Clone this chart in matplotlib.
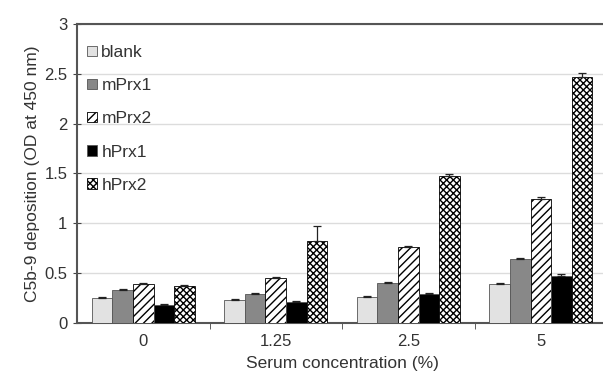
import numpy as np
import matplotlib
matplotlib.use("Agg")
import matplotlib.pyplot as plt

plt.rcParams['font.family'] = ['Liberation Sans', 'DejaVu Sans']

concentrations = ['0', '1.25', '2.5', '5']
series = ['blank', 'mPrx1', 'mPrx2', 'hPrx1', 'hPrx2']
blank = [0.25, 0.23, 0.26, 0.39]
mprx1 = [0.33, 0.29, 0.40, 0.64]
mprx2 = [0.39, 0.45, 0.76, 1.24]
hprx1 = [0.18, 0.21, 0.29, 0.47]
hprx2 = [0.37, 0.82, 1.47, 2.47]
err_blank = [0.01, 0.01, 0.01, 0.01]
err_mprx1 = [0.01, 0.01, 0.01, 0.01]
err_mprx2 = [0.01, 0.01, 0.01, 0.02]
err_hprx1 = [0.01, 0.01, 0.01, 0.02]
err_hprx2 = [0.01, 0.15, 0.02, 0.04]

values = [blank, mprx1, mprx2, hprx1, hprx2]
errors = [err_blank, err_mprx1, err_mprx2, err_hprx1, err_hprx2]
styles = [
    dict(color='#e2e2e2', hatch=None),
    dict(color='#888888', hatch=None),
    dict(color='white', hatch='////'),
    dict(color='black', hatch=None),
    dict(color='white', hatch='xxxxx'),
]

fig = plt.figure(figsize=(6.03, 3.84), dpi=100)
ax = fig.add_axes([0.1277, 0.159, 0.879, 0.7785])

x = np.arange(len(concentrations))
w = 0.155
for i, (name, v, e, st) in enumerate(zip(series, values, errors, styles)):
    pos = x + (i - 2) * w
    edge = '#555555' if st['hatch'] is None else 'black'
    ax.bar(pos, v, w, color=st['color'], edgecolor=edge, hatch=st['hatch'],
           linewidth=0.6, label=name, zorder=3)
    ax.errorbar(pos, v, yerr=[np.zeros(len(e)), e], fmt='none', ecolor='#222222',
                elinewidth=0.9, capsize=3, capthick=0.9, zorder=4)

ax.set_xlim(-0.5, 3.5)
ax.set_ylim(0, 3)
ax.set_yticks(np.arange(0, 3.01, 0.5))
ax.set_yticklabels(['0', '0.5', '1', '1.5', '2', '2.5', '3'])
ax.set_xticks(x)
ax.set_xticklabels(concentrations)
ax.set_xticks([0.5, 1.5, 2.5], minor=True)
ax.tick_params(axis='x', which='major', length=0, pad=8, labelsize=12, colors='#333333')
ax.tick_params(axis='x', which='minor', length=4, direction='out', color='#444444')
ax.tick_params(axis='y', length=6, direction='inout', labelsize=12, pad=4,
               color='#444444', labelcolor='#333333')

ax.grid(axis='y', color='#dcdcdc', linewidth=1, zorder=0)
ax.set_axisbelow(True)
for s in ['left', 'bottom', 'top']:
    ax.spines[s].set_color('#555555')
    ax.spines[s].set_linewidth(1.5)
ax.spines['right'].set_visible(False)

ax.set_xlabel('Serum concentration (%)', fontsize=12.5, color='#333333', labelpad=5)
ax.set_ylabel('C5b-9 deposition (OD at 450 nm)', fontsize=12.5, color='#333333', labelpad=3)

ax.legend(loc='upper left', bbox_to_anchor=(0.0, 0.965), frameon=False, fontsize=12.5,
          handlelength=0.55, handleheight=0.55, handletextpad=0.25, labelspacing=1.05,
          borderaxespad=0.2, labelcolor='#333333')

fig.savefig('out.png', dpi=100)
